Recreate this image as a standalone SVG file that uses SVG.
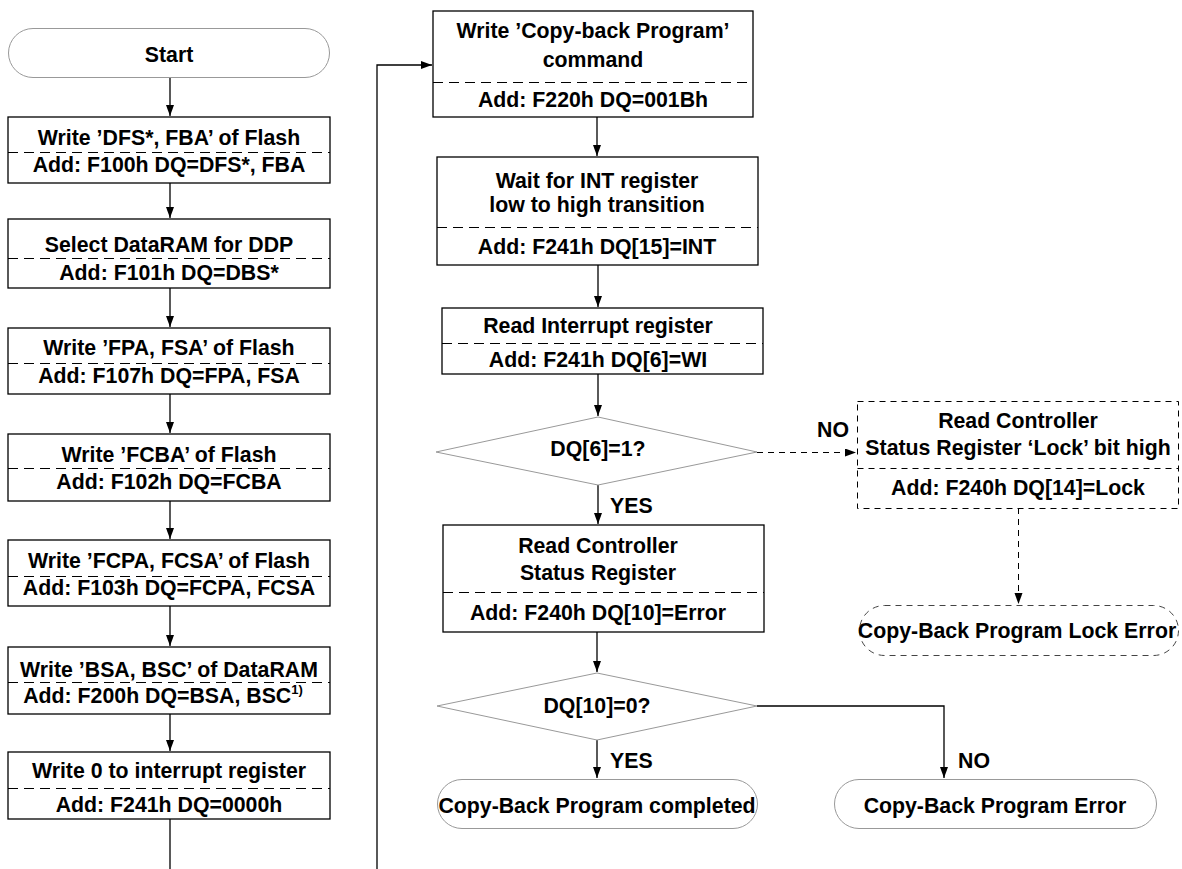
<svg xmlns="http://www.w3.org/2000/svg" width="1182" height="869" viewBox="0 0 1182 869">
<style>
text{font-family:"Liberation Sans",Arial,sans-serif;font-weight:bold;font-size:21.3px;fill:#000;text-anchor:middle}
.box{fill:#fff;stroke:#000;stroke-width:1.3}
.term{fill:#fff;stroke:#999;stroke-width:1}
.dia{fill:#fff;stroke:#999;stroke-width:1}
.sep{stroke:#000;stroke-width:1;stroke-dasharray:10,6;fill:none}
.dbox{fill:#fff;stroke:#000;stroke-width:1;stroke-dasharray:6,5}
.con{stroke:#000;stroke-width:1.3;fill:none}
.dcon{stroke:#000;stroke-width:1;fill:none;stroke-dasharray:6,5}
.lbl{text-anchor:start}
</style>
<defs>
<marker id="ah" markerUnits="userSpaceOnUse" markerWidth="12" markerHeight="10" refX="11" refY="4" orient="auto">
<path d="M0,0 L11,4 L0,8 z" fill="#000"/>
</marker>
</defs>
<rect width="1182" height="869" fill="#fff"/>

<g id="connectors">
<path class="con" d="M170,77 V116" marker-end="url(#ah)"/>
<path class="con" d="M170,183 V218" marker-end="url(#ah)"/>
<path class="con" d="M170,288 V327" marker-end="url(#ah)"/>
<path class="con" d="M170,394 V433" marker-end="url(#ah)"/>
<path class="con" d="M170,501 V539" marker-end="url(#ah)"/>
<path class="con" d="M170,606 V646" marker-end="url(#ah)"/>
<path class="con" d="M170,714 V751" marker-end="url(#ah)"/>
<path class="con" d="M170,819 V869"/>
<path class="con" d="M377,869 V65 H432" marker-end="url(#ah)"/>
<path class="con" d="M597,117 V156" marker-end="url(#ah)"/>
<path class="con" d="M598,265 V307" marker-end="url(#ah)"/>
<path class="con" d="M598,374 V416" marker-end="url(#ah)"/>
<path class="con" d="M598,485 V524" marker-end="url(#ah)"/>
<path class="con" d="M597,632 V672" marker-end="url(#ah)"/>
<path class="con" d="M597,740 V778" marker-end="url(#ah)"/>
<path class="con" d="M757,706 H944 V778" marker-end="url(#ah)"/>
<path class="dcon" d="M757,452.5 H856" marker-end="url(#ah)"/>
<path class="dcon" d="M1018.5,508 V604" marker-end="url(#ah)"/>
<text class="lbl" x="610" y="513">YES</text>
<text class="lbl" x="610" y="768">YES</text>
<text class="lbl" x="958" y="768">NO</text>
<text class="lbl" x="817" y="437">NO</text>
</g>

<g id="start">
<rect class="term" x="8.5" y="28.5" width="321" height="49" rx="24.5"/>
<text x="169" y="62">Start</text>
</g>

<g id="n1">
<rect class="box" x="8" y="117" width="322" height="66"/>
<line class="sep" x1="8" y1="152.5" x2="330" y2="152.5"/>
<text x="169" y="145">Write ’DFS*, FBA’ of Flash</text>
<text x="169" y="172">Add: F100h DQ=DFS*, FBA</text>
</g>

<g id="n2">
<rect class="box" x="8" y="219" width="322" height="69"/>
<line class="sep" x1="8" y1="258.5" x2="330" y2="258.5"/>
<text x="169" y="252">Select DataRAM for DDP</text>
<text x="169" y="280">Add: F101h DQ=DBS*</text>
</g>

<g id="n3">
<rect class="box" x="8" y="328" width="322" height="66"/>
<line class="sep" x1="8" y1="363.5" x2="330" y2="363.5"/>
<text x="169" y="355">Write ’FPA, FSA’ of Flash</text>
<text x="169" y="383">Add: F107h DQ=FPA, FSA</text>
</g>

<g id="n4">
<rect class="box" x="8" y="434" width="322" height="67"/>
<line class="sep" x1="8" y1="468.5" x2="330" y2="468.5"/>
<text x="169" y="462">Write ’FCBA’ of Flash</text>
<text x="169" y="489">Add: F102h DQ=FCBA</text>
</g>

<g id="n5">
<rect class="box" x="8" y="540" width="322" height="66"/>
<line class="sep" x1="8" y1="576.5" x2="330" y2="576.5"/>
<text x="169" y="568">Write ’FCPA, FCSA’ of Flash</text>
<text x="169" y="595">Add: F103h DQ=FCPA, FCSA</text>
</g>

<g id="n6">
<rect class="box" x="8" y="647" width="322" height="67"/>
<line class="sep" x1="8" y1="682.5" x2="330" y2="682.5"/>
<text x="169" y="677">Write ’BSA, BSC’ of DataRAM</text>
<text x="163" y="703">Add: F200h DQ=BSA, BSC<tspan dy="-9" font-size="13">1)</tspan></text>
</g>

<g id="n7">
<rect class="box" x="8" y="752" width="322" height="67"/>
<line class="sep" x1="8" y1="788.5" x2="330" y2="788.5"/>
<text x="169" y="778">Write 0 to interrupt register</text>
<text x="169" y="812">Add: F241h DQ=0000h</text>
</g>

<g id="n8">
<rect class="box" x="433" y="11" width="320" height="106"/>
<line class="sep" x1="433" y1="82.5" x2="753" y2="82.5"/>
<text x="593" y="38">Write ’Copy-back Program’</text>
<text x="593" y="67">command</text>
<text x="593" y="107">Add: F220h DQ=001Bh</text>
</g>

<g id="n9">
<rect class="box" x="437" y="157" width="321" height="108"/>
<line class="sep" x1="437" y1="227.5" x2="758" y2="227.5"/>
<text x="597" y="188">Wait for INT register</text>
<text x="597" y="212">low to high transition</text>
<text x="597" y="254">Add: F241h DQ[15]=INT</text>
</g>

<g id="n10">
<rect class="box" x="442" y="308" width="321" height="66"/>
<line class="sep" x1="442" y1="343.5" x2="763" y2="343.5"/>
<text x="598" y="333">Read Interrupt register</text>
<text x="598" y="367">Add: F241h DQ[6]=WI</text>
</g>

<g id="d1">
<polygon class="dia" points="598,417 757,452 598,485 436,452"/>
<text x="598" y="456">DQ[6]=1?</text>
</g>

<g id="n11">
<rect class="box" x="443" y="525" width="321" height="107"/>
<line class="sep" x1="443" y1="592.5" x2="764" y2="592.5"/>
<text x="598" y="553">Read Controller</text>
<text x="598" y="580">Status Register</text>
<text x="598" y="620">Add: F240h DQ[10]=Error</text>
</g>

<g id="d2">
<polygon class="dia" points="597,673 757,706 597,740 437,706"/>
<text x="597" y="713">DQ[10]=0?</text>
</g>

<g id="t1">
<rect class="term" x="437.5" y="779.5" width="320" height="49" rx="24.5"/>
<text x="597" y="813">Copy-Back Program completed</text>
</g>

<g id="t2">
<rect class="term" x="834.5" y="779.5" width="322" height="49" rx="24.5"/>
<text x="995" y="813">Copy-Back Program Error</text>
</g>

<g id="n12">
<rect class="dbox" x="857.5" y="401.5" width="321" height="107"/>
<line class="dcon" x1="857.5" y1="468.5" x2="1178.5" y2="468.5"/>
<text x="1018" y="428">Read Controller</text>
<text x="1018" y="455">Status Register ‘Lock’ bit high</text>
<text x="1018" y="495">Add: F240h DQ[14]=Lock</text>
</g>

<g id="t3">
<rect class="dbox" x="859.5" y="605.5" width="319" height="50" rx="25" style="stroke:#444"/>
<text x="1017" y="638">Copy-Back Program Lock Error</text>
</g>
</svg>
